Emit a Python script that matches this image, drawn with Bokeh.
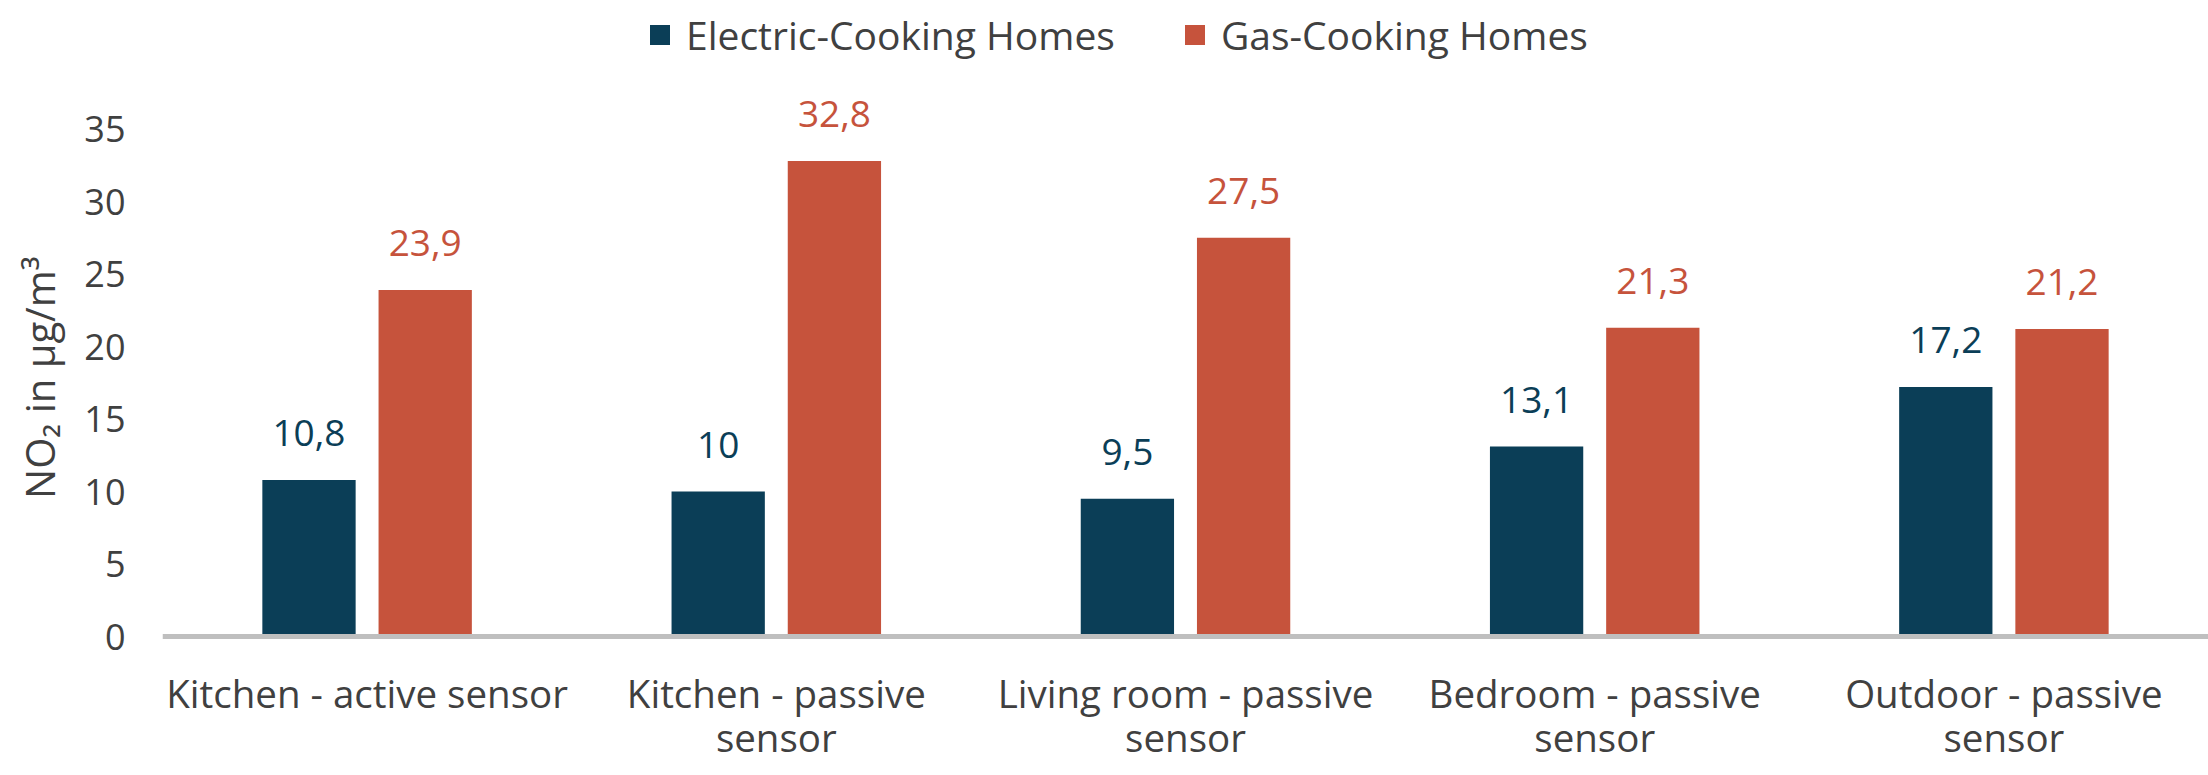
from bokeh.plotting import figure
from bokeh.models import ColumnDataSource, FactorRange, Range1d, FixedTicker, Legend, LegendItem, LabelSet, Span
from bokeh.core.properties import value
from bokeh.transform import dodge
from bokeh.embed import file_html
from bokeh.resources import INLINE

# ---- data ----
categories = ["Kitchen - active sensor", "Kitchen - passive sensor", "Living room - passive sensor",
              "Bedroom - passive sensor", "Outdoor - passive sensor"]
cat_line1 = ["Kitchen - active sensor", "Kitchen - passive", "Living room - passive",
             "Bedroom - passive", "Outdoor - passive"]
cat_line2 = ["", "sensor", "sensor", "sensor", "sensor"]
electric = [10.8, 10.0, 9.5, 13.1, 17.2]
gas = [23.9, 32.8, 27.5, 21.3, 21.2]
series_names = ["Electric-Cooking Homes", "Gas-Cooking Homes"]
y_ticks = [0, 5, 10, 15, 20, 25, 30, 35]
y_title = "NO₂ in µg/m³"

# ---- style / layout ----
C_EL = "#0B3E57"
C_GAS = "#C6533C"
TXT = "#404040"
FONT = "Open Sans"
W, H = 2208, 775
PPU = 14.5                          # pixels per data unit
ZERO_PX = 636                       # zero line, pixels from top
Y_TOP = ZERO_PX / PPU
Y_BOT = -(H - ZERO_PX) / PPU
LINE1_PX, LINE2_PX = 56, 100        # category label centres below the zero line, in pixels

def fmt(v):
    return f"{v:g}".replace(".", ",")

src = ColumnDataSource(dict(
    cat=categories, el=electric, gas=gas,
    el_lbl=[fmt(v) for v in electric], gas_lbl=[fmt(v) for v in gas],
    l1=cat_line1, l2=cat_line2,
    y1=[-LINE1_PX / PPU] * len(categories), y2=[-LINE2_PX / PPU] * len(categories),
))

p = figure(x_range=FactorRange(*categories, range_padding=0.0), y_range=Range1d(Y_BOT, Y_TOP),
           width=W, height=H, output_backend="svg", toolbar_location=None,
           x_axis_location=None,
           min_border_left=162, min_border_right=0, min_border_top=0, min_border_bottom=0)
p.outline_line_color = None
p.grid.grid_line_color = None

r_el = p.vbar(x=dodge("cat", -0.142, range=p.x_range), bottom=0, top="el", width=0.228, source=src,
              fill_color=C_EL, line_color=None)
r_gas = p.vbar(x=dodge("cat", 0.142, range=p.x_range), bottom=0, top="gas", width=0.228, source=src,
               fill_color=C_GAS, line_color=None)

p.add_layout(Span(location=0, dimension="width", line_color="#BFBFBF", line_width=5))

for col, lbl, off, color in [("el", "el_lbl", -0.142, C_EL), ("gas", "gas_lbl", 0.142, C_GAS)]:
    p.add_layout(LabelSet(x=dodge("cat", off, range=p.x_range), y=col, text=lbl, source=src,
                          y_offset=47, text_align="center", text_baseline="middle",
                          text_font=value(FONT), text_font_size=value("37px"), text_color=color))

# category labels (x axis)
for ycol, tcol in [("y1", "l1"), ("y2", "l2")]:
    p.text(x="cat", y=ycol, text=tcol, source=src, text_align="center", text_baseline="middle",
           text_font=value(FONT), text_font_size=value("38.5px"), text_color=TXT)

# y axis
p.yaxis.ticker = FixedTicker(ticks=y_ticks)
p.yaxis.axis_line_color = None
p.yaxis.major_tick_line_color = None
p.yaxis.minor_tick_line_color = None
p.yaxis.major_label_standoff = 31
p.yaxis.major_label_text_font = FONT
p.yaxis.major_label_text_font_size = "36px"
p.yaxis.major_label_text_color = TXT
p.yaxis.axis_label = "\u00a0\u00a0" + y_title
p.yaxis.axis_label_text_font = FONT
p.yaxis.axis_label_text_font_size = "40px"
p.yaxis.axis_label_text_font_style = "normal"
p.yaxis.axis_label_text_color = TXT
p.yaxis.axis_label_standoff = 14

legend = Legend(items=[LegendItem(label=series_names[0], renderers=[r_el]),
                       LegendItem(label=series_names[1], renderers=[r_gas])],
                orientation="horizontal", location=(485, 714),
                padding=0, margin=0, spacing=67, label_standoff=14,
                glyph_width=25, glyph_height=25, label_height=25,
                label_text_font=FONT, label_text_font_size="39px", label_text_color=TXT,
                border_line_color=None, background_fill_alpha=0)
p.add_layout(legend)

open("out.html", "w").write(file_html(p, INLINE))
